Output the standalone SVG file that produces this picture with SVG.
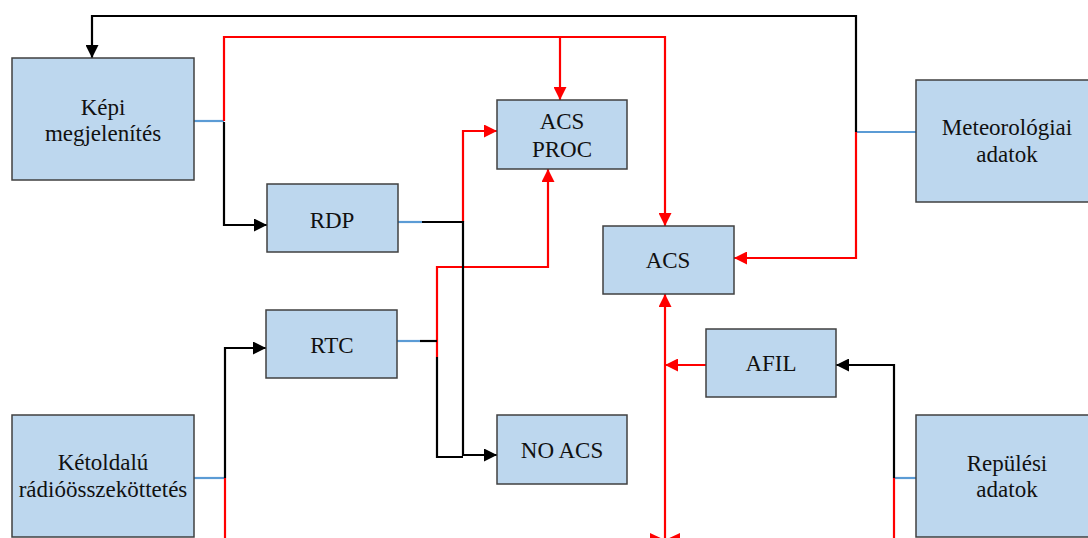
<svg xmlns="http://www.w3.org/2000/svg" width="1088" height="538" viewBox="0 0 1088 538">
<style>
.node rect{fill:#bdd7ee;stroke:#404040;stroke-width:1.5}
.node text{font-family:'Liberation Serif','DejaVu Serif',serif;font-size:23px;fill:#111;text-anchor:middle}
.k{fill:none;stroke:#000;stroke-width:2.2}
.r{fill:none;stroke:#ff0000;stroke-width:2.2}
.b{fill:none;stroke:#5b9bd5;stroke-width:2.2}
</style>
<defs>
<marker id="ak" viewBox="0 0 12 12" refX="12" refY="6" markerWidth="13" markerHeight="13" markerUnits="userSpaceOnUse" orient="auto"><path d="M0,0 L12,6 L0,12 z" fill="#000"/></marker>
<marker id="ar" viewBox="0 0 12 12" refX="12" refY="6" markerWidth="13" markerHeight="13" markerUnits="userSpaceOnUse" orient="auto"><path d="M0,0 L12,6 L0,12 z" fill="#ff0000"/></marker>
</defs>
<g id="connectors">
<path class="b" d="M194,121 H224"/>
<path class="b" d="M398,222 H422"/>
<path class="b" d="M397,341 H420"/>
<path class="b" d="M916,132 H856"/>
<path class="b" d="M194,478 H225"/>
<path class="b" d="M916,478 H894"/>
<path class="r" d="M224,121 V37 H665 V226" marker-end="url(#ar)"/>
<path class="r" d="M560,37 V100" marker-end="url(#ar)"/>
<path class="r" d="M463,222 V131 H497" marker-end="url(#ar)"/>
<path class="r" d="M437,357 V267 H548 V169" marker-end="url(#ar)"/>
<path class="r" d="M856,132 V258 H734" marker-end="url(#ar)"/>
<path class="r" d="M225,478 V540"/>
<path class="r" d="M894,478 V540"/>
<path class="r" d="M706,365 H665" marker-end="url(#ar)"/>
<path class="r" d="M665,540 V294" marker-end="url(#ar)"/>
<polygon points="650,533 665,540 650,547" fill="#ff0000"/>
<polygon points="680,533 665,540 680,547" fill="#ff0000"/>
<path class="k" d="M856,132 V16 H92 V58" marker-end="url(#ak)"/>
<path class="k" d="M224,122 V225 H267" marker-end="url(#ak)"/>
<path class="k" d="M422,222 H463 V455 H497" marker-end="url(#ak)"/>
<path class="k" d="M420,341 H437"/>
<path class="k" d="M437,357 V457 H463"/>
<path class="k" d="M225,478 V348 H266" marker-end="url(#ak)"/>
<path class="k" d="M894,478 V365 H836" marker-end="url(#ak)"/>
</g>
<g id="kepi" class="node"><rect x="12" y="58" width="182" height="122"/><text x="103" y="115">Képi</text><text x="103" y="141">megjelenítés</text></g>
<g id="rdp" class="node"><rect x="267" y="184" width="131" height="68"/><text x="332" y="228">RDP</text></g>
<g id="acsproc" class="node"><rect x="497" y="100" width="130" height="69"/><text x="562" y="129">ACS</text><text x="562" y="157">PROC</text></g>
<g id="acs" class="node"><rect x="603" y="226" width="131" height="68"/><text x="668" y="268">ACS</text></g>
<g id="meteo" class="node"><rect x="916" y="80" width="182" height="122"/><text x="1007" y="135">Meteorológiai</text><text x="1007" y="162">adatok</text></g>
<g id="rtc" class="node"><rect x="266" y="310" width="131" height="68"/><text x="332" y="353">RTC</text></g>
<g id="noacs" class="node"><rect x="497" y="415" width="130" height="69"/><text x="562" y="458">NO ACS</text></g>
<g id="afil" class="node"><rect x="706" y="329" width="130" height="68"/><text x="771" y="371">AFIL</text></g>
<g id="ketoldalu" class="node"><rect x="12" y="415" width="182" height="122"/><text x="103" y="470">Kétoldalú</text><text x="103" y="497">rádióösszeköttetés</text></g>
<g id="repulesi" class="node"><rect x="916" y="415" width="182" height="122"/><text x="1007" y="471">Repülési</text><text x="1007" y="497">adatok</text></g>
</svg>
